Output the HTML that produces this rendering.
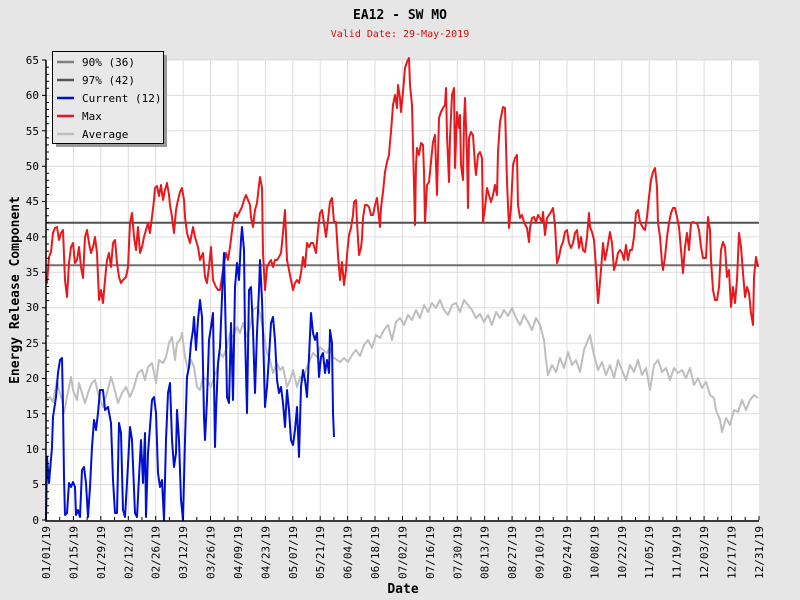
<!DOCTYPE html>
<html><head><meta charset="utf-8"><style>
body{margin:0;background:#e6e6e6;}
svg{display:block;font-family:"DejaVu Sans Mono","Liberation Mono",monospace;}
</style></head><body>
<svg width="800" height="600" viewBox="0 0 800 600">
<rect width="800" height="600" fill="#e6e6e6"/>
<rect x="46" y="60" width="713" height="460" fill="#fff"/>
<g stroke="#dcdcdc" stroke-width="1">
<path d="M73.4 60V520M100.8 60V520M128.3 60V520M155.7 60V520M183.1 60V520M210.5 60V520M237.9 60V520M265.4 60V520M292.8 60V520M320.2 60V520M347.6 60V520M375 60V520M402.5 60V520M429.9 60V520M457.3 60V520M484.7 60V520M512.1 60V520M539.6 60V520M567 60V520M594.4 60V520M621.8 60V520M649.2 60V520M676.7 60V520M704.1 60V520M731.5 60V520"/>
<path d="M46 484.6H759M46 449.2H759M46 413.8H759M46 378.5H759M46 343.1H759M46 307.7H759M46 272.3H759M46 236.9H759M46 201.5H759M46 166.2H759M46 130.8H759M46 95.4H759M46 60H759"/>
</g>
<line x1="46" y1="265.2" x2="759" y2="265.2" stroke="#707070" stroke-width="2"/>
<line x1="46" y1="222.8" x2="759" y2="222.8" stroke="#505050" stroke-width="2"/>
<g fill="none" stroke-width="2" stroke-linejoin="round">
<polyline stroke="#bebebe" points="46,390 47,400 50,397 53,402 57,380 59,390 62,400 64,413 67,397 71,377 73,390 77,400 79,383 82,393 85,403 89,390 92,383 95,380 99,397 103,407 107,393 111,377 114,387 118,403 122,393 126,387 130,397 134,387 138,373 142,370 145,380 148,367 152,363 156,383 159,360 163,363 166,357 169,343 172,337 175,360 177,343 180,340 182,333 185,357 188,370 191,360 194,367 197,387 200,390 203,377 207,380 211,387 214,377 217,370 220,353 223,357 227,347 230,333 233,337 237,327 240,333 243,323 247,337 250,327 253,310 257,307 260,313 263,330 267,353 270,360 273,373 277,363 280,370 283,367 287,387 290,380 293,370 297,387 300,377 303,380 307,367 310,360 313,353 317,357 320,347 323,350 327,353 330,347 333,357 337,360 340,362 344,358 348,362 352,355 356,350 360,356 364,345 368,340 372,348 376,335 380,338 384,330 388,325 392,340 396,322 400,318 404,325 408,315 412,320 416,310 420,318 424,305 428,312 432,303 436,308 440,300 444,310 448,315 452,305 456,303 460,312 464,300 468,305 472,310 476,318 480,314 484,322 488,315 492,325 496,312 500,318 504,310 508,316 512,308 516,318 520,325 524,315 528,322 532,330 536,318 540,325 544,340 546,360 548,375 552,365 556,372 560,358 564,368 568,352 572,365 576,360 580,372 584,350 588,340 590,335 594,355 598,370 602,362 606,375 610,365 614,378 618,360 622,370 626,380 630,365 634,372 638,360 642,375 646,368 650,390 654,365 658,360 662,372 666,368 670,380 674,368 678,373 682,370 686,378 690,368 694,385 698,378 702,388 706,382 710,395 714,398 716,410 720,420 722,432 726,418 730,425 734,410 738,412 742,400 746,410 750,400 754,395 758,398"/>
<polyline stroke="#e8191c" points="46,280 47,283 49,257 51,252 53,233 55,228 57,227 59,240 61,233 63,230 65,280 67,297 69,263 71,247 73,243 75,263 77,260 79,247 81,267 83,278 85,237 87,230 89,243 91,253 93,247 95,237 97,253 99,300 101,290 103,303 105,280 107,260 109,253 111,267 113,243 115,240 117,263 119,277 121,283 123,280 126,277 128,267 130,223 132,213 134,237 136,250 138,227 140,253 142,247 144,237 146,230 148,223 150,233 152,217 154,200 155,188 157,186 159,196 161,185 163,200 165,190 167,183 169,195 170,205 172,217 174,233 176,210 178,200 180,192 182,188 184,200 185,217 187,233 190,243 193,227 195,237 198,247 200,260 203,253 205,277 207,283 209,267 211,247 213,280 216,287 218,290 220,290 222,277 224,263 226,253 228,260 230,247 233,223 235,213 237,217 239,213 242,207 244,200 246,195 248,200 250,205 251,217 253,227 255,210 257,203 259,185 260,177 262,188 263,253 265,290 267,267 269,263 271,260 273,267 275,260 277,260 279,257 281,253 283,233 285,210 287,260 289,270 291,280 293,290 295,283 297,280 299,283 301,273 303,257 305,267 307,243 309,247 311,243 313,243 316,253 318,230 320,213 322,210 324,223 326,237 328,220 330,202 332,198 334,222 336,222 338,255 340,280 342,262 344,285 346,270 347,255 349,235 351,228 353,215 354,202 356,200 357,222 359,255 361,248 362,238 363,218 365,205 367,205 369,207 371,215 373,215 375,205 377,198 379,218 380,227 381,208 383,192 384,182 385,172 387,162 389,155 390,142 391,132 393,105 395,95 397,108 398,85 400,98 401,112 403,92 405,68 407,62 409,58 410,85 412,105 413,145 415,225 416,165 417,148 419,155 421,143 423,145 424,172 425,223 427,185 429,182 431,162 433,142 435,135 437,195 439,118 441,112 443,108 445,105 446,88 447,135 449,182 450,138 452,95 454,88 455,168 457,112 459,128 460,115 461,165 463,180 464,122 465,98 467,155 468,208 469,138 471,132 473,135 475,165 476,175 478,155 480,152 482,158 483,222 485,208 487,188 489,195 491,202 493,195 495,185 497,195 498,152 500,122 502,112 503,107 505,108 507,182 509,228 511,208 513,165 515,158 517,155 518,205 520,218 522,215 524,222 527,228 529,242 530,228 532,218 534,217 536,222 538,215 540,218 542,222 543,212 545,235 547,218 549,215 551,212 553,208 555,225 557,263 559,257 561,247 563,242 565,232 567,230 569,243 571,248 573,243 575,233 577,230 579,248 581,237 583,250 585,252 587,237 589,213 590,227 592,232 594,240 596,267 598,303 599,293 601,270 603,243 605,260 607,250 610,232 612,243 614,270 616,263 618,253 620,250 622,253 624,260 626,245 628,260 630,250 632,250 634,237 636,213 638,210 640,222 643,228 645,230 647,217 649,197 651,180 653,172 655,168 657,187 658,223 660,237 662,263 663,270 665,257 667,237 669,223 671,213 673,208 675,208 677,217 679,227 681,250 683,273 685,247 687,233 689,250 691,223 693,222 695,223 697,223 699,230 701,247 703,258 706,258 708,217 710,230 711,260 713,290 715,300 717,300 719,287 721,250 723,242 725,247 727,277 729,270 731,307 733,287 735,303 737,280 739,233 741,247 743,273 745,297 747,287 749,293 751,313 753,325 754,277 756,257 758,267"/>
<polyline stroke="#0010d0" points="46,520 47,457 49,483 52,447 53,417 56,397 58,373 60,360 62,358 63,407 64,477 65,515 67,513 69,483 71,487 73,482 75,487 76,515 78,510 80,517 82,470 84,467 86,483 88,517 90,487 92,447 94,420 96,430 98,413 100,390 103,390 105,410 108,407 111,423 113,480 115,513 117,513 119,423 121,433 123,510 125,517 127,483 130,427 132,440 135,513 137,517 139,477 141,440 143,483 145,433 146,517 148,453 150,427 152,400 154,397 156,413 158,473 160,487 162,480 164,520 166,440 168,393 170,383 172,440 174,467 176,453 177,410 179,440 181,500 183,520 185,440 187,377 189,367 191,343 193,330 194,317 196,350 198,320 200,300 202,317 204,417 205,440 207,400 209,340 211,327 213,313 215,447 216,413 218,363 220,347 222,297 224,253 226,343 227,397 229,403 231,323 233,400 235,287 237,263 239,280 241,240 242,227 244,250 245,333 247,413 249,290 251,287 253,330 255,393 257,333 259,290 260,260 262,300 263,333 265,407 267,387 269,357 271,323 273,317 275,340 277,380 279,393 281,387 283,403 285,427 287,390 289,410 291,440 293,445 295,430 297,407 299,457 301,387 303,370 305,380 307,397 309,357 311,313 313,333 315,340 317,333 319,377 321,357 323,353 325,373 327,360 329,373 330,330 332,343 333,413 334,437"/>
</g>
<g stroke="#000" stroke-width="1.5" fill="none">
<path d="M46 60V521H759"/>
</g>
<g stroke="#000" stroke-width="1">
<path d="M42 60H46M42 95.4H46M42 130.8H46M42 166.2H46M42 201.5H46M42 236.9H46M42 272.3H46M42 307.7H46M42 343.1H46M42 378.5H46M42 413.8H46M42 449.2H46M42 484.6H46M42 520H46"/>
<path d="M46 516V520M73.4 516V520M100.8 516V520M128.3 516V520M155.7 516V520M183.1 516V520M210.5 516V520M237.9 516V520M265.4 516V520M292.8 516V520M320.2 516V520M347.6 516V520M375 516V520M402.5 516V520M429.9 516V520M457.3 516V520M484.7 516V520M512.1 516V520M539.6 516V520M567 516V520M594.4 516V520M621.8 516V520M649.2 516V520M676.7 516V520M704.1 516V520M731.5 516V520M759 516V520"/>
<path d="M59.7 517V520M87.1 517V520M114.5 517V520M142 517V520M169.4 517V520M196.8 517V520M224.2 517V520M251.6 517V520M279.1 517V520M306.5 517V520M333.9 517V520M361.3 517V520M388.7 517V520M416.2 517V520M443.6 517V520M471 517V520M498.4 517V520M525.8 517V520M553.3 517V520M580.7 517V520M608.1 517V520M635.5 517V520M662.9 517V520M690.4 517V520M717.8 517V520M745.2 517V520"/>
<path d="M46 67.1h3M46 74.2h3M46 81.2h3M46 88.3h3M46 102.5h3M46 109.5h3M46 116.6h3M46 123.7h3M46 137.9h3M46 144.9h3M46 152h3M46 159.1h3M46 173.2h3M46 180.3h3M46 187.4h3M46 194.5h3M46 208.6h3M46 215.7h3M46 222.8h3M46 229.8h3M46 244h3M46 251.1h3M46 258.2h3M46 265.2h3M46 279.4h3M46 286.5h3M46 293.5h3M46 300.6h3M46 314.8h3M46 321.8h3M46 328.9h3M46 336h3M46 350.2h3M46 357.2h3M46 364.3h3M46 371.4h3M46 385.5h3M46 392.6h3M46 399.7h3M46 406.8h3M46 420.9h3M46 428h3M46 435.1h3M46 442.2h3M46 456.3h3M46 463.4h3M46 470.5h3M46 477.5h3M46 491.7h3M46 498.8h3M46 505.8h3M46 512.9h3"/>
</g>
<g font-size="11" text-anchor="end" fill="#000">
<text x="39" y="64">65</text><text x="39" y="99">60</text><text x="39" y="135">55</text><text x="39" y="170">50</text><text x="39" y="205">45</text><text x="39" y="241">40</text><text x="39" y="276">35</text><text x="39" y="311">30</text><text x="39" y="347">25</text><text x="39" y="382">20</text><text x="39" y="418">15</text><text x="39" y="453">10</text><text x="39" y="488">5</text><text x="39" y="524">0</text>
</g>
<g font-size="11" text-anchor="end" fill="#000">
<text transform="translate(50,526) rotate(-90)">01/01/19</text>
<text transform="translate(77.4,526) rotate(-90)">01/15/19</text>
<text transform="translate(104.8,526) rotate(-90)">01/29/19</text>
<text transform="translate(132.3,526) rotate(-90)">02/12/19</text>
<text transform="translate(159.7,526) rotate(-90)">02/26/19</text>
<text transform="translate(187.1,526) rotate(-90)">03/12/19</text>
<text transform="translate(214.5,526) rotate(-90)">03/26/19</text>
<text transform="translate(241.9,526) rotate(-90)">04/09/19</text>
<text transform="translate(269.4,526) rotate(-90)">04/23/19</text>
<text transform="translate(296.8,526) rotate(-90)">05/07/19</text>
<text transform="translate(324.2,526) rotate(-90)">05/21/19</text>
<text transform="translate(351.6,526) rotate(-90)">06/04/19</text>
<text transform="translate(379,526) rotate(-90)">06/18/19</text>
<text transform="translate(406.5,526) rotate(-90)">07/02/19</text>
<text transform="translate(433.9,526) rotate(-90)">07/16/19</text>
<text transform="translate(461.3,526) rotate(-90)">07/30/19</text>
<text transform="translate(488.7,526) rotate(-90)">08/13/19</text>
<text transform="translate(516.1,526) rotate(-90)">08/27/19</text>
<text transform="translate(543.6,526) rotate(-90)">09/10/19</text>
<text transform="translate(571,526) rotate(-90)">09/24/19</text>
<text transform="translate(598.4,526) rotate(-90)">10/08/19</text>
<text transform="translate(625.8,526) rotate(-90)">10/22/19</text>
<text transform="translate(653.2,526) rotate(-90)">11/05/19</text>
<text transform="translate(680.7,526) rotate(-90)">11/19/19</text>
<text transform="translate(708.1,526) rotate(-90)">12/03/19</text>
<text transform="translate(735.5,526) rotate(-90)">12/17/19</text>
<text transform="translate(763,526) rotate(-90)">12/31/19</text>
</g>
<text x="400" y="19" font-size="13" font-weight="bold" text-anchor="middle">EA12 - SW MO</text>
<text x="400" y="37" font-size="10" fill="#d01010" text-anchor="middle">Valid Date: 29-May-2019</text>
<text transform="translate(19,290) rotate(-90)" font-size="13" font-weight="bold" text-anchor="middle">Energy Release Component</text>
<text x="403" y="593" font-size="13" font-weight="bold" text-anchor="middle">Date</text>
<rect x="56" y="55" width="111" height="92" fill="#999"/>
<rect x="52.5" y="51.5" width="111" height="92" fill="#e8e8e8" stroke="#000" stroke-width="1"/>
<g stroke-width="2.5">
<line x1="57" y1="62" x2="74" y2="62" stroke="#808080"/>
<line x1="57" y1="80" x2="74" y2="80" stroke="#555"/>
<line x1="57" y1="98" x2="74" y2="98" stroke="#0010d0"/>
<line x1="57" y1="116" x2="74" y2="116" stroke="#e8191c"/>
<line x1="57" y1="134" x2="74" y2="134" stroke="#bebebe"/>
</g>
<g font-size="11" fill="#000">
<text x="82" y="66">90% (36)</text>
<text x="82" y="84">97% (42)</text>
<text x="82" y="102">Current (12)</text>
<text x="82" y="120">Max</text>
<text x="82" y="138">Average</text>
</g>
</svg>
</body></html>
